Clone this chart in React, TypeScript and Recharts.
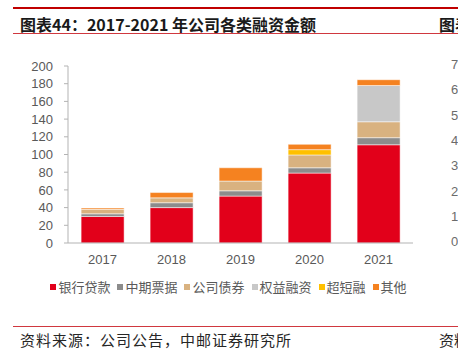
import { BarChart, Bar, XAxis, YAxis } from "recharts";

// 2017-2021 financing by type (亿元)
const years = ["2017", "2018", "2019", "2020", "2021"];
const bankLoans = [30, 40, 53, 79, 111];
const mtn = [3, 5.5, 6, 6, 8];
const corpBonds = [5, 5.5, 11, 14.5, 18];
const equity = [0, 0, 0, 0, 41];
const scp = [0, 0, 0, 6, 0];
const others = [1.5, 6, 15, 6, 6.5];

const yTicks = [0, 20, 40, 60, 80, 100, 120, 140, 160, 180, 200];
const rightTicks = ["7", "6", "5", "4", "3", "2", "1", "0"];

const SERIES = [
  { key: "bank", name: "银行贷款", color: "#e2001a" },
  { key: "mtn", name: "中期票据", color: "#8c8c8c" },
  { key: "bond", name: "公司债券", color: "#d9b280" },
  { key: "equity", name: "权益融资", color: "#c8c8c8" },
  { key: "scp", name: "超短融", color: "#ffc000" },
  { key: "other", name: "其他", color: "#f58220" },
];

const data = years.map((year, i) => ({
  year,
  bank: bankLoans[i],
  mtn: mtn[i],
  bond: corpBonds[i],
  equity: equity[i],
  scp: scp[i],
  other: others[i],
}));

const FONT = "'Liberation Sans', Arial, 'Noto Sans CJK SC', sans-serif";
const CJK = "'Noto Sans CJK SC', sans-serif";

function ChartLegend() {
  return (
    <div
      style={{
        position: "absolute",
        left: 3,
        top: 278,
        width: 458,
        display: "flex",
        justifyContent: "center",
        alignItems: "center",
        fontFamily: CJK,
        fontSize: 13,
        lineHeight: "18px",
        color: "#595959",
        whiteSpace: "nowrap",
      }}
    >
      {SERIES.map((s) => (
        <span
          key={s.key}
          style={{ display: "flex", alignItems: "center", marginRight: 7 }}
        >
          <span
            style={{
              display: "inline-block",
              width: 6,
              height: 6,
              background: s.color,
              marginRight: 2,
            }}
          />
          {s.name}
        </span>
      ))}
    </div>
  );
}

export default function App() {
  return (
    <div
      style={{
        position: "absolute",
        left: 0,
        top: 0,
        width: 458,
        height: 357,
        overflow: "hidden",
        background: "#fff",
      }}
    >
      {/* header */}
      <div
        style={{
          position: "absolute",
          left: 13,
          top: 7,
          width: 445,
          height: 2,
          background: "#c00000",
        }}
      />
      <div
        style={{
          position: "absolute",
          left: 20,
          top: 14,
          fontFamily: CJK,
          fontWeight: 700,
          fontSize: 16,
          lineHeight: "20px",
          color: "#1a1a1a",
          whiteSpace: "nowrap",
        }}
      >
        图表44：2017-2021 年公司各类融资金额
      </div>
      <div
        style={{
          position: "absolute",
          left: 439,
          top: 14,
          fontFamily: CJK,
          fontWeight: 700,
          fontSize: 16,
          lineHeight: "20px",
          color: "#1a1a1a",
          whiteSpace: "nowrap",
        }}
      >
        图表
      </div>
      <div
        style={{
          position: "absolute",
          left: 13,
          top: 33,
          width: 445,
          height: 1,
          background: "#d0383f",
        }}
      />

      {/* right neighbour's axis, cut off */}
      {rightTicks.map((t, i) => (
        <div
          key={t}
          style={{
            position: "absolute",
            left: 451,
            top: 57 + i * 25.3,
            fontFamily: FONT,
            fontSize: 13,
            lineHeight: "16px",
            color: "#6b6b6b",
          }}
        >
          {t}
        </div>
      ))}

      <div style={{ position: "absolute", left: 0, top: 0 }}>
        <BarChart
          width={458}
          height={357}
          data={data}
          margin={{ top: 66, right: 45, left: 0, bottom: 84 }}
          barCategoryGap="19%"
        >
          <XAxis
            dataKey="year"
            height={30}
            axisLine={{ stroke: "#b3b3b3" }}
            tickLine={false}
            tick={{ fill: "#595959", fontSize: 13, fontFamily: FONT }}
            tickMargin={6}
          />
          <XAxis
            xAxisId="bounds"
            type="number"
            domain={[0, 5]}
            ticks={[0, 1, 2, 3, 4, 5]}
            height={0}
            axisLine={false}
            tick={false}
            tickLine={{ stroke: "#b3b3b3" }}
            tickSize={4}
          />
          <YAxis
            width={68}
            domain={[0, 200]}
            ticks={yTicks}
            interval={0}
            axisLine={{ stroke: "#b3b3b3" }}
            tickLine={{ stroke: "#b3b3b3" }}
            tickSize={4}
            tickMargin={11}
            tick={{ fill: "#595959", fontSize: 13, fontFamily: FONT }}
          />
          {SERIES.map((s) => (
            <Bar
              key={s.key}
              dataKey={s.key}
              name={s.name}
              stackId="a"
              fill={s.color}
              stroke="#ffffff"
              strokeWidth={0.5}
              isAnimationActive={false}
            />
          ))}
        </BarChart>
      </div>

      <ChartLegend />

      {/* footer */}
      <div
        style={{
          position: "absolute",
          left: 13,
          top: 326,
          width: 445,
          height: 1,
          background: "#d0383f",
        }}
      />
      <div
        style={{
          position: "absolute",
          left: 20,
          top: 330,
          fontFamily: CJK,
          fontSize: 15,
          lineHeight: "20px",
          letterSpacing: 1,
          color: "#262626",
          whiteSpace: "nowrap",
        }}
      >
        资料来源：公司公告，中邮证券研究所
      </div>
      <div
        style={{
          position: "absolute",
          left: 439,
          top: 330,
          fontFamily: CJK,
          fontSize: 15,
          lineHeight: "20px",
          color: "#262626",
          whiteSpace: "nowrap",
        }}
      >
        资料
      </div>
    </div>
  );
}
